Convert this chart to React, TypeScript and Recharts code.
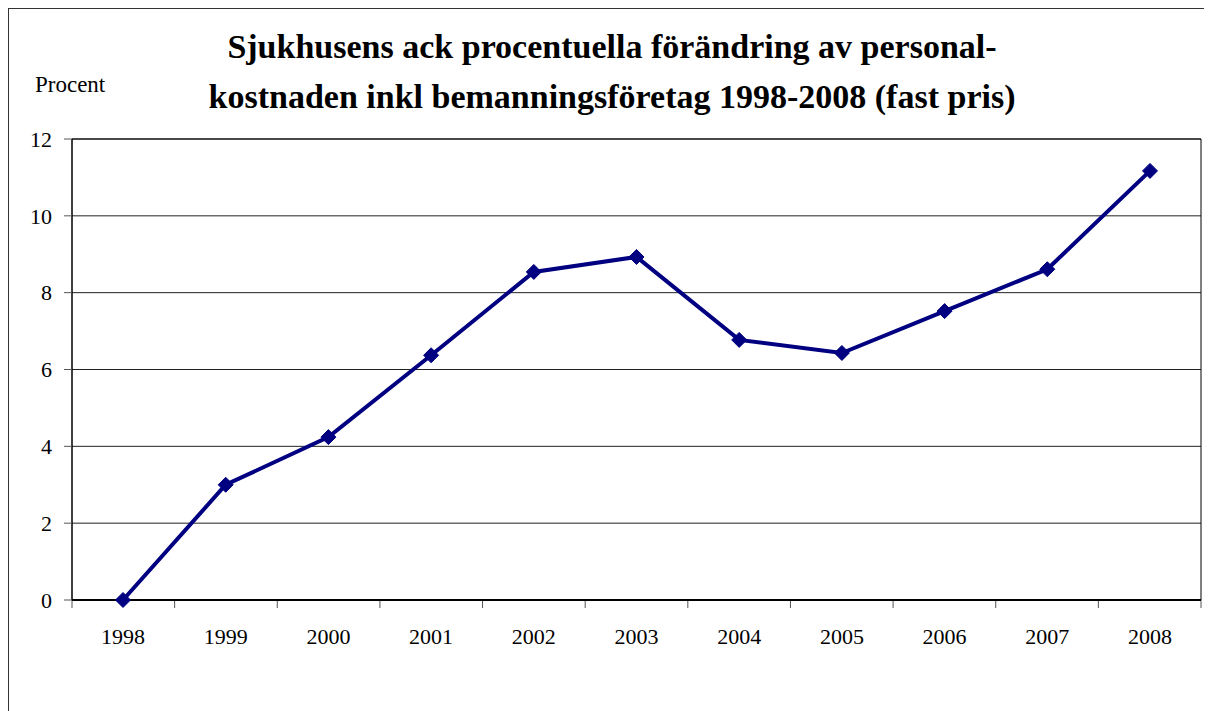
import { CartesianGrid, Line, LineChart, ReferenceArea, ReferenceLine, XAxis, YAxis } from 'recharts';

const years = ['1998', '1999', '2000', '2001', '2002', '2003', '2004', '2005', '2006', '2007', '2008'];
const values = [0, 3.0, 4.24, 6.37, 8.54, 8.93, 6.77, 6.43, 7.52, 8.61, 11.17];
const yTicks = [0, 2, 4, 6, 8, 10, 12];
const boundaryTicks = [0, 1, 2, 3, 4, 5, 6, 7, 8, 9, 10, 11];

// pos = centre of each category slot on the 0..11 boundary axis
const data = years.map((year, i) => ({ year, pos: i + 0.5, value: values[i] }));

const serif = '"Times New Roman", Times, "Liberation Serif", "DejaVu Serif", serif';

// tick mark length below the x axis, in value units (~8px)
const TICK_DEPTH = 0.21;

const Diamond = (props: { cx?: number; cy?: number }) => {
  const { cx, cy } = props;
  if (cx == null || cy == null) return null;
  const r = 7.5;
  return (
    <polygon
      points={`${cx},${cy - r} ${cx + r},${cy} ${cx},${cy + r} ${cx - r},${cy}`}
      fill="#000080"
      stroke="#000080"
    />
  );
};

export default function App() {
  return (
    <div
      style={{
        position: 'relative',
        width: 1204,
        height: 703,
        borderLeft: '1px solid #333',
        borderTop: '1px solid #333',
        fontFamily: serif,
        background: '#fff',
      }}
    >
      <div
        style={{
          position: 'absolute',
          left: 0,
          width: 1206,
          top: 13,
          textAlign: 'center',
          fontWeight: 'bold',
          fontSize: 34,
          lineHeight: '50px',
          color: '#000',
        }}
      >
        <div>Sjukhusens ack procentuella förändring av personal-</div>
        <div>kostnaden inkl bemanningsföretag 1998-2008 (fast pris)</div>
      </div>
      <div style={{ position: 'absolute', left: 26, top: 63, fontSize: 23, color: '#000' }}>Procent</div>

      <LineChart
        width={1203}
        height={702}
        data={data}
        margin={{ top: 130, right: 11, left: 23, bottom: 81 }}
      >
        <CartesianGrid vertical={false} stroke="#222" strokeWidth={1} />
        <XAxis
          xAxisId="edges"
          dataKey="pos"
          type="number"
          domain={[0, 11]}
          ticks={boundaryTicks}
          hide
          allowDataOverflow
        />
        <XAxis
          dataKey="year"
          height={30}
          padding={{ left: 51, right: 51 }}
          axisLine={false}
          tickLine={false}
          tickSize={8}
          tickMargin={20}
          interval={0}
          tick={{ fill: '#000', fontSize: 22, fontFamily: serif }}
        />
        <YAxis
          domain={[0, 12]}
          ticks={yTicks}
          width={40}
          interval={0}
          axisLine={{ stroke: '#000' }}
          tickLine={{ stroke: '#555' }}
          tickSize={8}
          tickMargin={12}
          tick={{ fill: '#000', fontSize: 22, fontFamily: serif }}
        />
        <ReferenceArea
          xAxisId="edges"
          x1={0}
          x2={11}
          y1={0}
          y2={12}
          fill="none"
          fillOpacity={0}
          stroke="#000"
          strokeWidth={1}
        />
        {boundaryTicks.map((t) => (
          <ReferenceLine
            key={t}
            xAxisId="edges"
            segment={[
              { x: t, y: 0 },
              { x: t, y: -TICK_DEPTH },
            ]}
            stroke="#555"
            strokeWidth={1}
            ifOverflow="visible"
          />
        ))}
        <ReferenceLine xAxisId="edges" y={0} stroke="#000" strokeWidth={2} />
        <Line
          dataKey="value"
          stroke="#000080"
          strokeWidth={4}
          dot={<Diamond />}
          activeDot={false}
          isAnimationActive={false}
        />
      </LineChart>
    </div>
  );
}
